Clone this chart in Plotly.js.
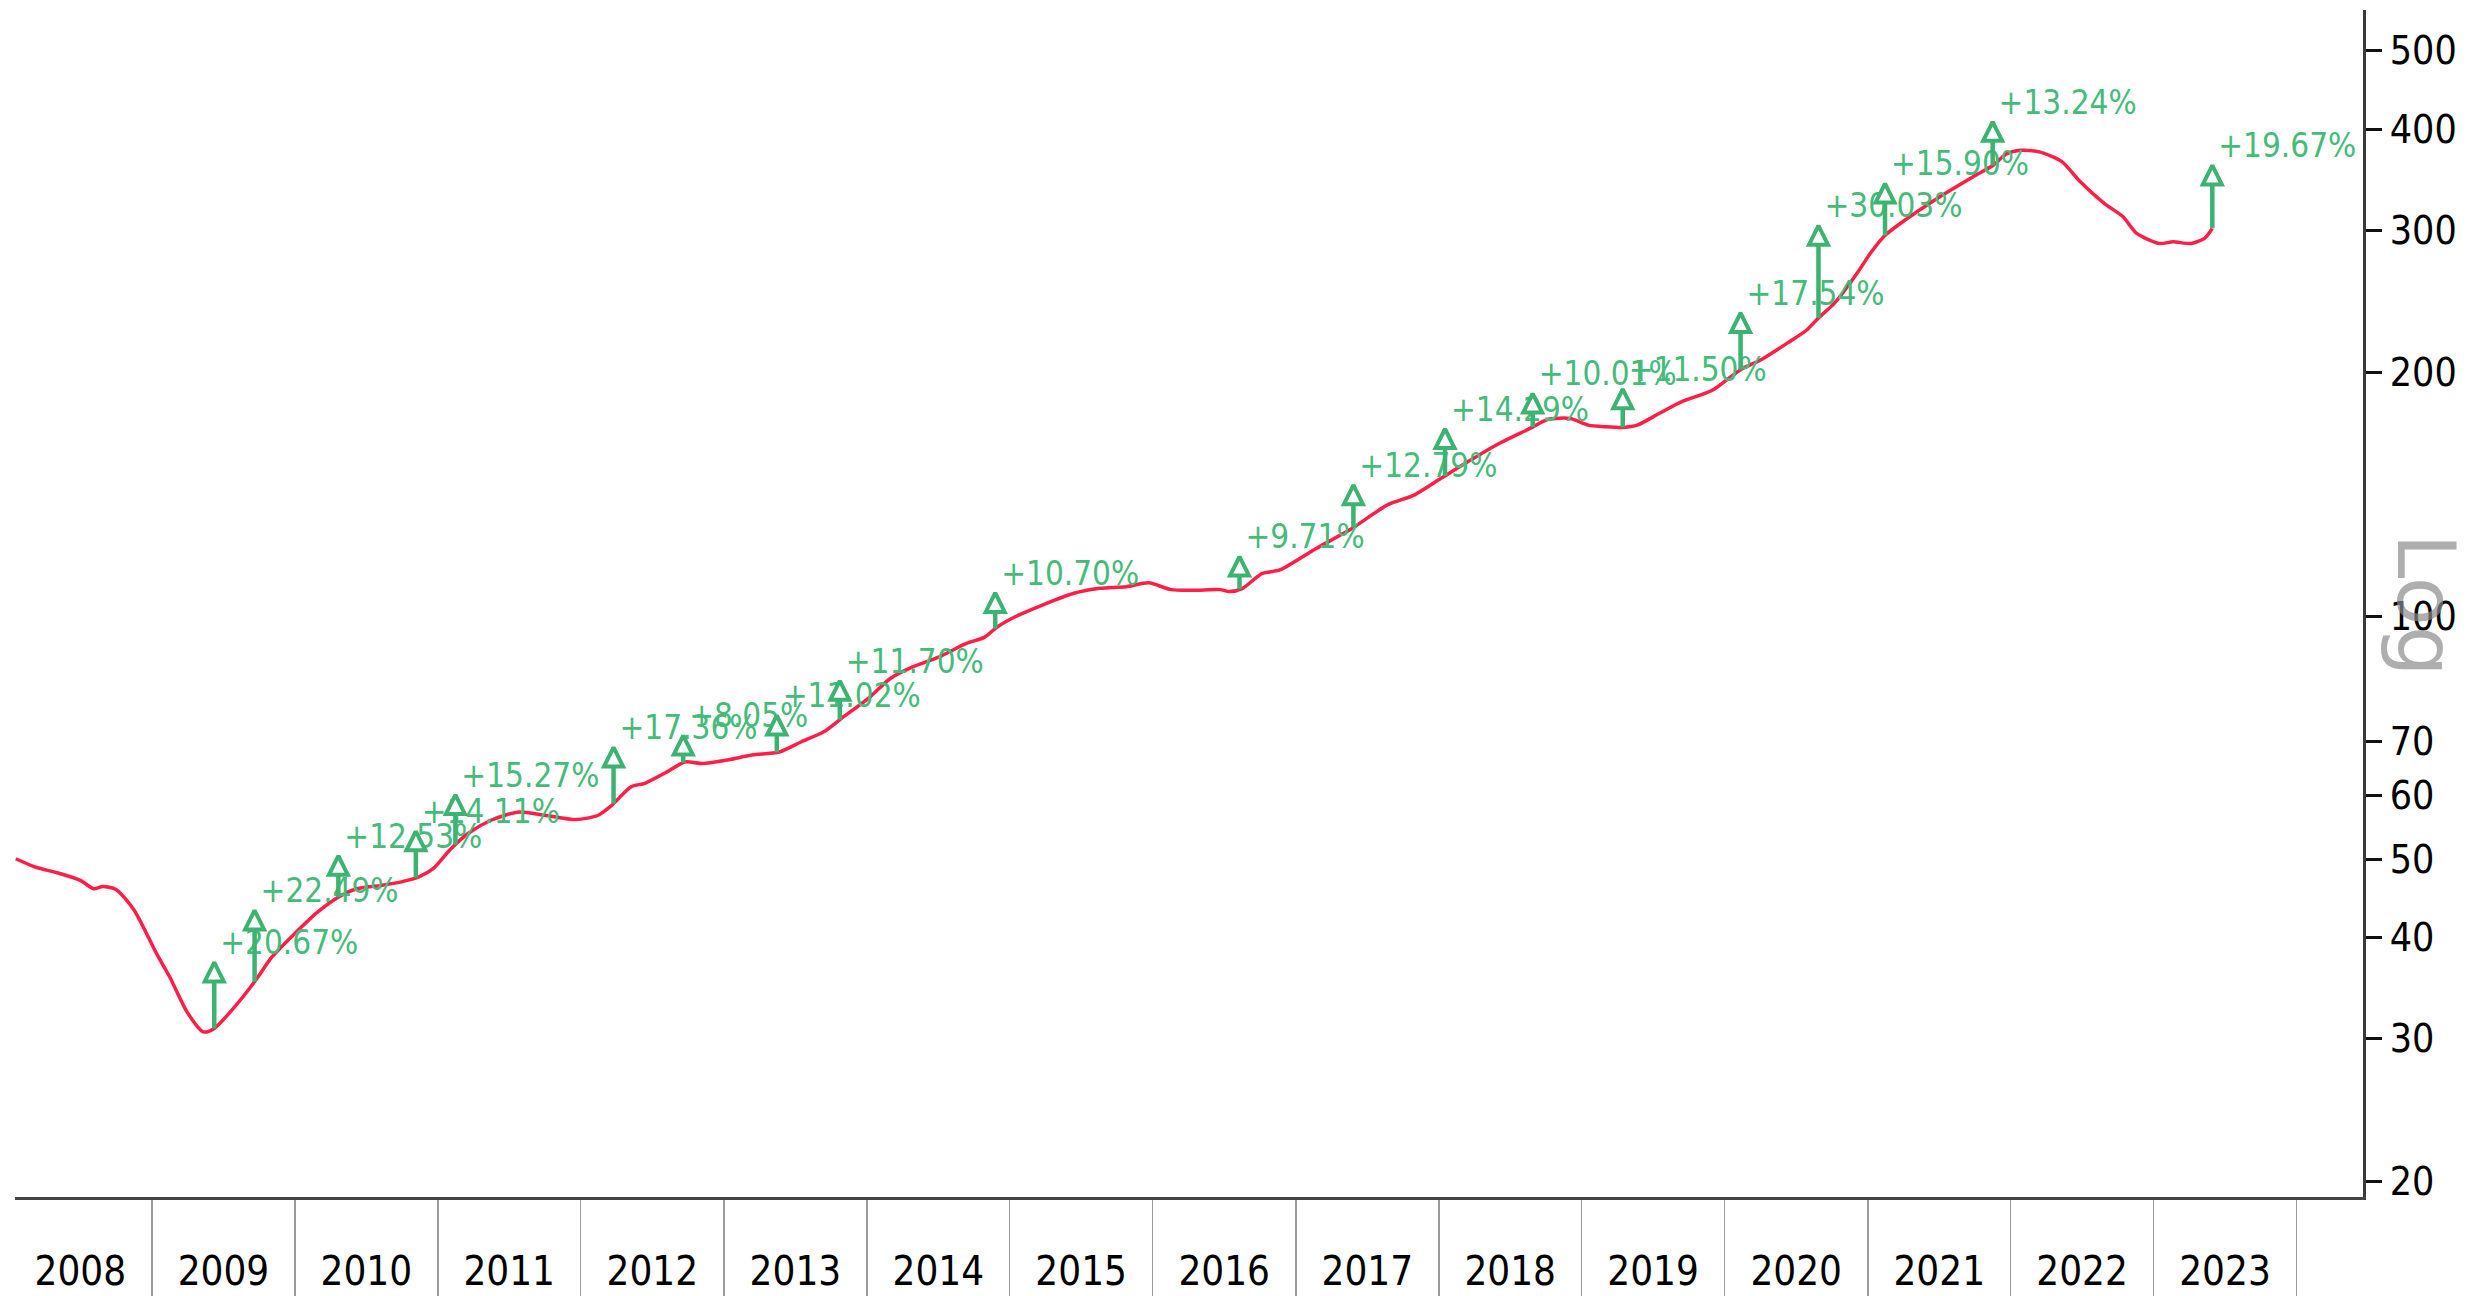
<!DOCTYPE html>
<html>
<head>
<meta charset="utf-8">
<script src="https://cdn.plot.ly/plotly-3.0.1.min.js"></script>
<style>
html,body{margin:0;padding:0;background:#ffffff;}
#chart{width:2479px;height:1296px;}
</style>
</head>
<body>
<div id="chart"></div>
<script>
// ---- data ----
const lineDates = [
'2008-01-19','2008-03-10','2008-05-06','2008-07-02','2008-08-05','2008-08-28','2008-10-01','2008-11-16',
'2009-01-13','2009-02-15','2009-04-02','2009-05-12','2009-06-09','2009-07-25','2009-09-20','2009-11-04',
'2010-01-01','2010-02-27','2010-04-25','2010-06-09','2010-08-05','2010-09-30','2010-11-15','2010-12-20',
'2011-02-03','2011-03-21','2011-05-17','2011-07-24','2011-10-01','2011-12-20',
'2012-02-15','2012-03-20','2012-05-09','2012-06-13','2012-08-10','2012-09-23','2012-11-08',
'2013-01-05','2013-03-14','2013-05-22','2013-07-18','2013-09-13','2013-10-28',
'2014-01-05','2014-03-02','2014-04-28','2014-07-05','2014-09-12','2014-10-28','2014-12-01',
'2015-01-15','2015-03-24','2015-06-12','2015-08-19','2015-10-26','2015-12-22',
'2016-02-17','2016-04-15','2016-06-22','2016-07-15','2016-08-18','2016-10-07','2016-11-21',
'2017-02-22','2017-05-24','2017-08-23','2017-10-30',
'2018-01-07','2018-03-16','2018-06-04','2018-08-22','2018-10-06','2018-12-03',
'2019-01-18','2019-03-04','2019-04-18','2019-05-23','2019-07-19','2019-09-14','2019-12-02',
'2020-02-09','2020-04-07','2020-06-15','2020-07-29','2020-08-28','2020-10-08','2020-12-05',
'2021-01-08','2021-02-13','2021-03-25','2021-07-04','2021-09-27','2021-11-18','2021-12-20',
'2022-01-26','2022-03-15','2022-05-11','2022-06-28','2022-08-28','2022-10-15','2022-11-19',
'2023-01-15','2023-02-20','2023-04-07','2023-05-11','2023-05-31'
];
const lineValues = [
50.1,48.9,48.1,47.1,46.0,46.3,45.9,43.3,
38.2,35.8,32.3,30.6,30.9,32.6,35.3,37.9,
40.5,43.0,45.0,46.0,46.4,46.9,47.6,48.7,
51.5,53.9,55.9,57.2,56.7,56.0,
56.7,58.3,61.5,62.1,64.2,66.0,65.7,
66.3,67.3,67.9,69.9,71.9,74.7,
79.1,83.7,86.5,89.0,92.5,94.1,97.0,
99.8,103.1,106.6,108.2,108.7,109.9,
107.8,107.6,107.8,107.2,108.2,112.9,114.0,
121.2,128.3,137.2,141.1,
148.0,155.1,163.4,170.6,175.0,175.5,
172.2,171.4,171.1,172.2,178.1,184.1,190.3,
201.4,207.9,218.4,225.8,233.7,243.7,265.5,
281.1,295.3,305.8,330.0,349.3,361.2,372.4,
376.6,375.0,364.9,344.3,323.8,311.7,297.2,
288.9,290.2,288.9,293.1,301.5
];
const arrowDates = [
'2009-06-09','2009-09-20','2010-04-22','2010-11-06','2011-02-15','2012-03-25','2012-09-19',
'2013-05-16','2013-10-24','2014-11-25','2016-08-10','2017-05-28','2018-01-17','2018-08-29',
'2019-04-16','2020-02-11','2020-08-28','2021-02-14','2021-11-16','2023-05-31'
];
const arrowPct = [
20.67,22.49,12.53,14.11,15.27,17.36,8.05,
11.02,11.70,10.70,9.71,12.79,14.29,10.01,
11.50,17.54,30.03,15.90,13.24,19.67
];
const yTickVals = [20,30,40,50,60,70,100,200,300,400,500];
const yTickText = ['20','30','40','50','60','70','100','200','300','400','500'];
const scaleLabel = 'Log';

// ---- helpers: place arrows on the line ----
function toTime(s){ return Date.parse(s + 'T00:00:00Z'); }
function lineValueAt(d){
  const t = toTime(d);
  for (let i = 0; i < lineDates.length - 1; i++){
    const t0 = toTime(lineDates[i]), t1 = toTime(lineDates[i+1]);
    if (t >= t0 && t <= t1){
      const f = (t - t0) / (t1 - t0);
      return Math.pow(10, Math.log10(lineValues[i]) * (1 - f) + Math.log10(lineValues[i+1]) * f);
    }
  }
  return lineValues[lineValues.length - 1];
}
const arrowBase = arrowDates.map(lineValueAt);
const arrowTip = arrowBase.map((b, i) => b * (1 + arrowPct[i] / 100));
const arrowText = arrowPct.map(p => '\u2009+' + p.toFixed(2) + '%');

const GREEN = '#3cb371';
const RED = '#ff1e46';
const FONT = '"DejaVu Sans Condensed", "DejaVu Sans", sans-serif';

const traces = [
  {
    x: lineDates, y: lineValues, type: 'scatter', mode: 'lines',
    line: {color: RED, width: 3.5, shape: 'spline', smoothing: 0.7},
    hoverinfo: 'skip', showlegend: false
  },
  {
    x: arrowDates, y: arrowTip, type: 'scatter', mode: 'text',
    text: arrowText, textposition: 'top right',
    textfont: {family: FONT, size: 33, color: '#45bb7a'},
    cliponaxis: false, hoverinfo: 'skip', showlegend: false
  },
  {
    x: arrowDates.flatMap(d => [d, d, null]),
    y: arrowBase.flatMap((b, i) => [b, arrowTip[i], null]),
    type: 'scatter', mode: 'lines',
    line: {color: GREEN, width: 4.5},
    connectgaps: false, hoverinfo: 'skip', showlegend: false
  },
  {
    x: arrowDates, y: arrowTip, type: 'scatter', mode: 'markers',
    marker: {symbol: 'arrow-up', size: 19, color: '#ffffff', line: {color: GREEN, width: 4}},
    cliponaxis: false, hoverinfo: 'skip', showlegend: false
  }
];

const layout = {
  width: 2479, height: 1296,
  paper_bgcolor: '#ffffff', plot_bgcolor: '#ffffff',
  margin: {l: 15, r: 116, t: 10, b: 99, pad: 0},
  showlegend: false,
  font: {family: FONT, size: 39, color: '#000000'},
  xaxis: {
    type: 'date',
    range: ['2008-01-17', '2024-06-19'],
    tick0: '2009-01-01', dtick: 'M12',
    tickformat: '%Y', ticklabelmode: 'period',
    ticks: 'outside', ticklen: 99, tickwidth: 1.5, tickcolor: '#9a9a9a',
    ticklabelstandoff: -62,
    tickfont: {family: FONT, size: 40, color: '#000000'},
    showgrid: false, zeroline: false,
    showline: true, linecolor: '#444444', linewidth: 3
  },
  yaxis: {
    type: 'log', side: 'right',
    range: [Math.log10(19.12), Math.log10(561.6)],
    tickmode: 'array', tickvals: yTickVals, ticktext: yTickText,
    ticks: 'outside', ticklen: 16, tickwidth: 3, tickcolor: '#111111',
    tickfont: {family: FONT, size: 39, color: '#000000'},
    showgrid: false, zeroline: false,
    showline: true, linecolor: '#3a3a3a', linewidth: 3
  },
  annotations: [
    {
      text: scaleLabel, xref: 'paper', yref: 'paper',
      x: 1.027, y: 0.4987, xanchor: 'center', yanchor: 'middle',
      textangle: 90, showarrow: false,
      font: {family: '"DejaVu Sans", sans-serif', size: 80, color: 'rgba(140,140,140,0.7)'}
    }
  ]
};

Plotly.newPlot('chart', traces, layout, {staticPlot: true, displayModeBar: false});
</script>
</body>
</html>
